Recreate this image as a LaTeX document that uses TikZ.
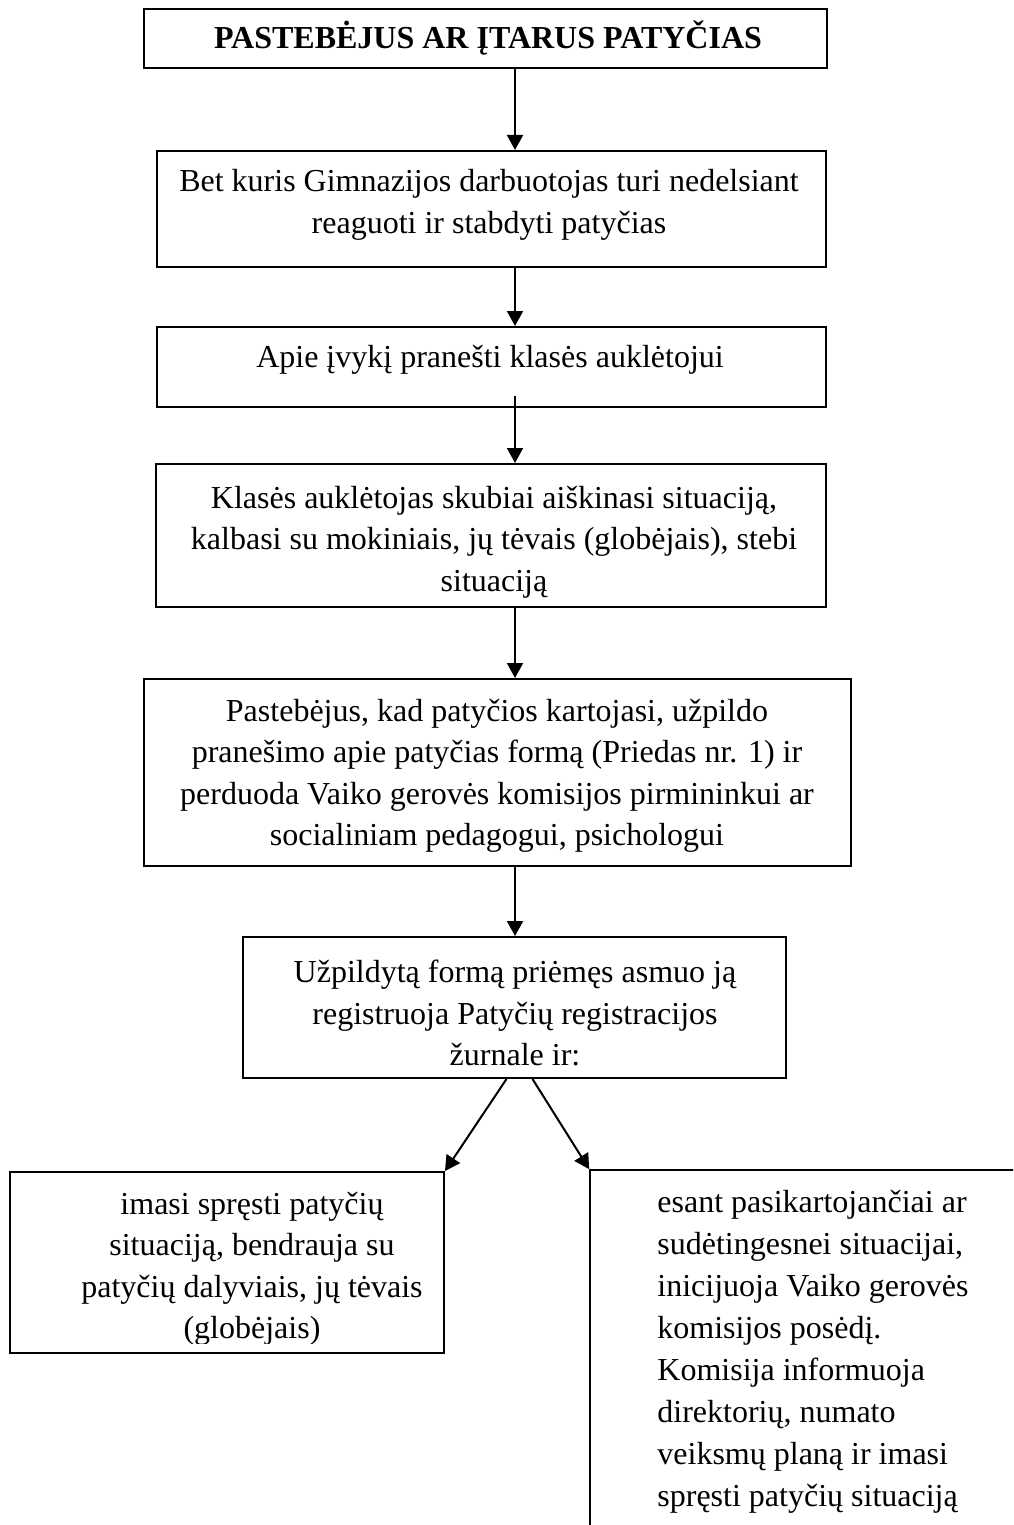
\documentclass[tikz,border=0pt]{standalone}
\usepackage{fontspec}
\setmainfont{Liberation Serif}
\usetikzlibrary{arrows.meta,calc}
\begin{document}
\begin{tikzpicture}[x=0.5pt,y=-0.5pt,
  box/.style={draw,line width=1pt,rectangle,inner sep=0pt},
  txt/.style={font=\fontsize{16}{20.75}\selectfont,align=center,inner sep=0pt},
  ltxt/.style={font=\fontsize{16}{21}\selectfont,align=left,inner sep=0pt},
  arr/.style={line width=1pt,-{Triangle[length=7.5pt,width=8pt]}},
]
\useasboundingbox (0,0) rectangle (1013,1525);
\fill[white] (0,0) rectangle (1013,1525);
\clip (0,0) rectangle (1013,1525);

% boxes
\node[box,minimum width=341.5pt,minimum height=29.5pt] (b1) at (485.5,38.5) {};
\node[box,minimum width=334.5pt,minimum height=58pt] (b2) at (491.5,209) {};
\node[box,minimum width=334.5pt,minimum height=40pt] (b3) at (491.5,367) {};
\node[box,minimum width=335pt,minimum height=71.5pt] (b4) at (491,535.5) {};
\node[box,minimum width=353.5pt,minimum height=93.5pt] (b5) at (497.5,772.5) {};
\node[box,minimum width=271.5pt,minimum height=70.5pt] (b6) at (514.5,1007.5) {};
\node[box,minimum width=217pt,minimum height=90.5pt] (lb) at (227,1262.5) {};
\node[box,line width=0.8pt,minimum width=255pt,minimum height=215pt] (rb) at (845,1385) {};

% texts
\node[txt] (t1) at (488,38) {\bfseries PASTEBĖJUS AR ĮTARUS PATYČIAS};
\node[txt] (t2) at (489,205) {Bet kuris Gimnazijos darbuotojas turi nedelsiant\\reaguoti ir stabdyti patyčias};
\node[txt] (t3) at (490,360) {Apie įvykį pranešti klasės auklėtojui};
\node[txt] (t4) at (494,542) {Klasės auklėtojas skubiai aiškinasi situaciją,\\kalbasi su mokiniais, jų tėvais (globėjais), stebi\\situaciją};
\node[txt] (t5) at (497,776) {Pastebėjus, kad patyčios kartojasi, užpildo\\pranešimo apie patyčias formą (Priedas nr. 1) ir\\perduoda Vaiko gerovės komisijos pirmininkui ar\\socialiniam pedagogui, psichologui};
\node[txt] (t6) at (515,1013) {Užpildytą formą priėmęs asmuo ją\\registruoja Patyčių registracijos\\žurnale ir:};
\begin{scope}
  \clip ($(lb.north west)+(2,2)$) rectangle ($(lb.south east)+(-2,-11)$);
  \node[txt] (t7) at (252,1269) {imasi spręsti patyčių\\situaciją, bendrauja su\\patyčių dalyviais, jų tėvais\\(globėjais)};
\end{scope}
\node[ltxt,anchor=west] (t8) at (657,1352) {esant pasikartojančiai ar\\sudėtingesnei situacijai,\\inicijuoja Vaiko gerovės\\komisijos posėdį.\\Komisija informuoja\\direktorių, numato\\veiksmų planą ir imasi\\spręsti patyčių situaciją};

% connectors
\coordinate (ax) at (515,0);
\draw[arr] (b1.south -| ax) -- (b2.north -| ax);
\draw[arr] (b2.south -| ax) -- (b3.north -| ax);
\draw[arr] ($(b3.south -| ax)+(0,-12)$) -- (b4.north -| ax);
\draw[arr] (b4.south -| ax) -- (b5.north -| ax);
\draw[arr] (b5.south -| ax) -- (b6.north -| ax);
\draw[arr] ($(b6.south)+(-8,0)$) -- (lb.north east);
\draw[arr] ($(b6.south)+(18,0)$) -- (rb.north west);
\end{tikzpicture}
\end{document}
